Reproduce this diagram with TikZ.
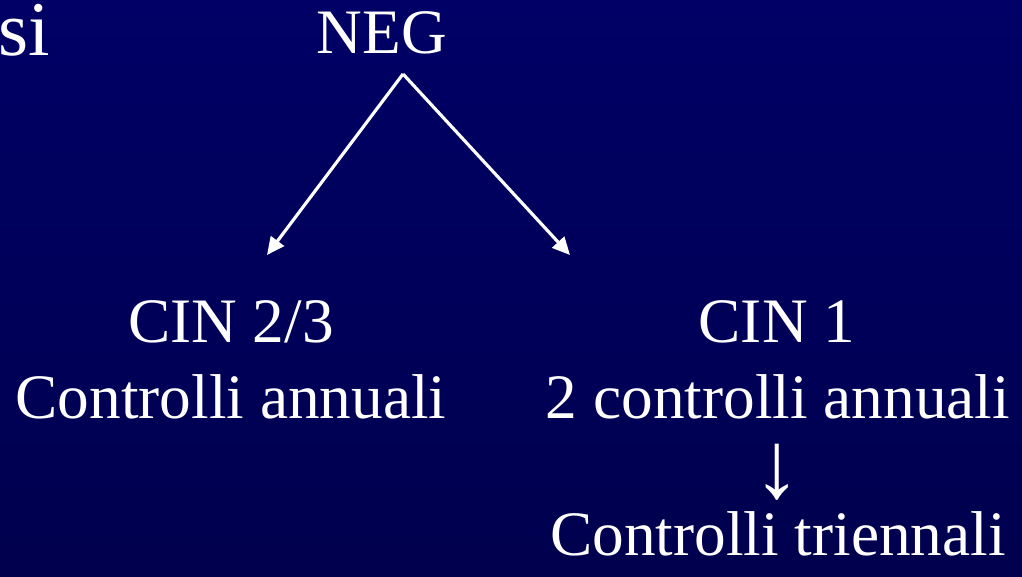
\documentclass[tikz,border=0pt]{standalone}
\usepackage{fontspec}
\setmainfont{Liberation Serif}
\usetikzlibrary{%
    arrows.meta,%
    positioning%
}
\definecolor{slidetop}{RGB}{0,0,102}
\definecolor{slidebottom}{RGB}{0,0,78}

\tikzset{
    slidetext/.style = {text = white, inner sep = 0pt, font = \fontsize{18pt}{21.6pt}\selectfont},
    branch/.style = {draw = white, line width = 0.9pt, -{Triangle[length = 5pt, width = 4.6pt]}}
}

\begin{document}
\begin{tikzpicture}[x = 0.01cm, y = -0.01cm]
    % Background
    \shade[top color = slidetop, bottom color = slidebottom] (0,0) rectangle (1022,576);
    \useasboundingbox (0,0) rectangle (1022,576);

    % Top line
    \node[slidetext, anchor = base east, font = \fontsize{22pt}{26pt}\selectfont] (si) at (51,56) {si};
    \node[slidetext, anchor = base] (neg) at (382,54) {NEG};

    % Left branch
    \node[slidetext, anchor = base] (cin23) at (231,342) {CIN 2/3};
    \node[slidetext, anchor = base] (annual) at (231,418) {Controlli annuali};

    % Right branch
    \node[slidetext, anchor = base] (cin1) at (777,342) {CIN 1};
    \node[slidetext, anchor = base] (biannual) at (778,418) {2 controlli annuali};
    \node[slidetext, anchor = base, text depth = 0pt, font = \fontsize{27pt}{30pt}\selectfont] (down) at (777,497) {↓};
    \node[slidetext, anchor = base] (triennial) at (778,555) {Controlli triennali};

    % Define fork and arrow ends
    \coordinate (fork) at (403,74);
    \coordinate (lefttip) at (267,255);
    \coordinate (righttip) at (570,255);

    % Draw the branches
    \draw[branch] (fork) -- (lefttip);
    \draw[branch] (fork) -- (righttip);
\end{tikzpicture}
\end{document}
